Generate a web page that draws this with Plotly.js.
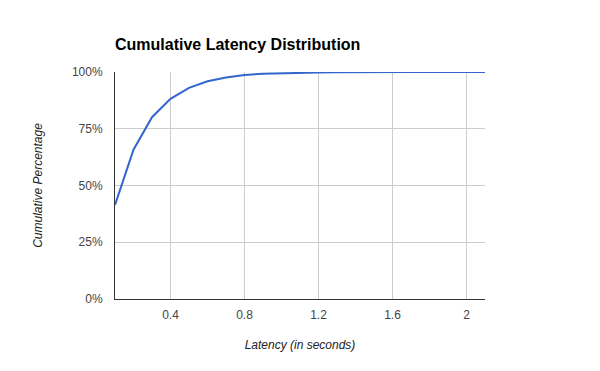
<!DOCTYPE html>
<html>
<head>
<meta charset="utf-8">
<script src="https://cdn.plot.ly/plotly-3.0.1.min.js"></script>
<style>html,body{margin:0;padding:0;background:#fff;}#chart{width:600px;height:371px;}</style>
</head>
<body>
<div id="chart"></div>
<script>
const latency = [0.1, 0.2, 0.3, 0.4, 0.5, 0.6, 0.7, 0.8, 0.9, 1.0, 1.1, 1.2, 1.3, 1.4, 1.5, 1.6, 1.7, 1.8, 1.9, 2.0, 2.1];
const cumulative = [0.414, 0.658, 0.801, 0.882, 0.930, 0.959, 0.976, 0.987, 0.992, 0.995, 0.997, 0.998, 0.999, 1.0, 1.0, 1.0, 1.0, 1.0, 1.0, 1.0, 1.0];
const xTicks = [0.4, 0.8, 1.2, 1.6, 2];
const xTickText = ["0.4", "0.8", "1.2", "1.6", "2"];
const yTicks = [0, 0.25, 0.5, 0.75, 1];
const yTickText = ["0%", "25%", "50%", "75%", "100%"];

const font = "Arial, 'Liberation Sans', sans-serif";
Plotly.newPlot('chart', [{
  x: latency, y: cumulative, type: 'scatter', mode: 'lines',
  line: {color: '#3366cc', width: 2}, hoverinfo: 'skip'
}], {
  width: 600, height: 371,
  margin: {l: 115, r: 115, t: 72, b: 72, pad: 0},
  paper_bgcolor: '#fff', plot_bgcolor: '#fff',
  showlegend: false,
  title: {text: '<b>Cumulative Latency Distribution</b>', x: 115/600, xanchor: 'left', y: 1 - 44/371, yanchor: 'middle',
    font: {family: font, size: 16, color: '#000'}},
  xaxis: {
    range: [0.1, 2.1], tickvals: xTicks, ticktext: xTickText,
    showgrid: true, gridcolor: '#cccccc', gridwidth: 1,
    zeroline: false, showline: true, linecolor: '#333', linewidth: 1,
    ticks: '', tickfont: {family: font, size: 12, color: '#444'},
    ticklabelstandoff: 5,
    title: {text: '<i>Latency (in seconds)</i>', font: {family: font, size: 12, color: '#222'}, standoff: 19}
  },
  yaxis: {
    range: [0, 1], tickvals: yTicks, ticktext: yTickText,
    showgrid: true, gridcolor: '#cccccc', gridwidth: 1,
    zeroline: false, showline: true, linecolor: '#333', linewidth: 1,
    ticks: '', tickfont: {family: font, size: 12, color: '#444'},
    ticklabelstandoff: 9,
    title: {text: '<i>Cumulative Percentage</i>', font: {family: font, size: 12, color: '#222'}, standoff: 26}
  }
}, {displayModeBar: false, staticPlot: true});
</script>
</body>
</html>
